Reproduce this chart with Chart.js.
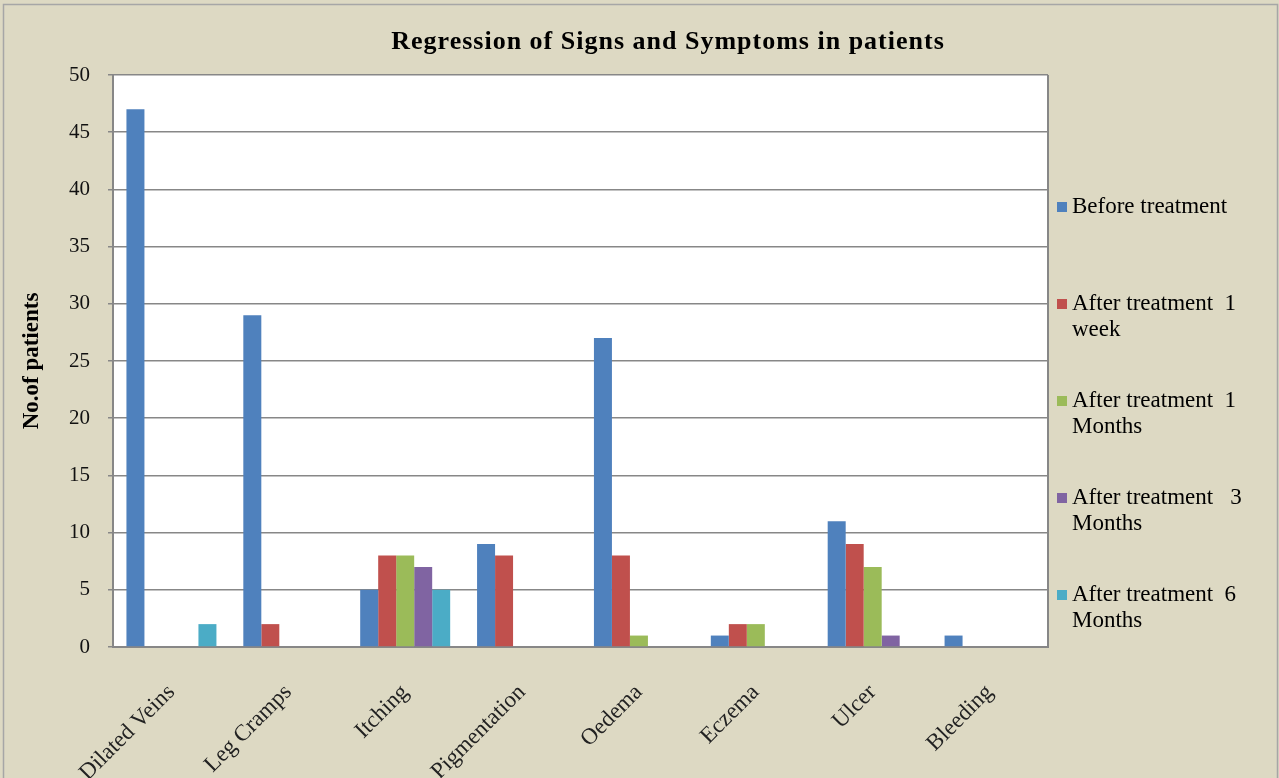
<!DOCTYPE html>
<html>
<head>
<meta charset="utf-8">
<script src="https://cdn.jsdelivr.net/npm/chart.js@4.4.0/dist/chart.umd.min.js"></script>
<style>
  html, body { margin: 0; padding: 0; background: #ddd9c3; }
  canvas { display: block; }
</style>
</head>
<body>
<canvas id="chart" width="1279" height="778"></canvas>
<script>
const categories = ["Dilated Veins", "Leg Cramps", "Itching", "Pigmentation", "Oedema", "Eczema", "Ulcer", "Bleeding"];

const beforeTreatment = [47, 29, 5, 9, 27, 1, 11, 1];
const after1Week = [0, 2, 8, 8, 8, 2, 9, 0];
const after1Month = [0, 0, 8, 0, 1, 2, 7, 0];
const after3Months = [0, 0, 7, 0, 0, 0, 1, 0];
const after6Months = [2, 0, 5, 0, 0, 0, 0, 0];

// legend text, one array per series (lines as shown in the legend)
const seriesNames = [
  ["Before treatment"],
  ["After treatment  1", "week"],
  ["After treatment  1", "Months"],
  ["After treatment   3", "Months"],
  ["After treatment  6", "Months"]
];
const seriesColors = ["#4f81bd", "#c0504d", "#9bbb59", "#8064a2", "#4bacc6"];

const chartTitle = "Regression of Signs and Symptoms in patients";
const yAxisTitle = "No.of patients";

const serif = "'Liberation Serif', 'Times New Roman', serif";
const gridGray = "#878787";

const seriesValues = [beforeTreatment, after1Week, after1Month, after3Months, after6Months];

const datasets = seriesValues.map((values, i) => ({
  label: seriesNames[i].join(" "),
  legendLines: seriesNames[i],
  data: values,
  backgroundColor: seriesColors[i],
  borderWidth: 0
}));

// beige page, white plot area, frame, title and the legend on the right
const decorations = {
  id: "decorations",
  beforeDraw(chart) {
    const { ctx, chartArea } = chart;
    ctx.save();
    ctx.fillStyle = "#ddd9c3";
    ctx.fillRect(0, 0, chart.width, chart.height);
    ctx.strokeStyle = "#a6a6a6";
    ctx.lineWidth = 1.5;
    ctx.strokeRect(3.5, 4.5, chart.width - 5, chart.height + 5);
    ctx.fillStyle = "#ffffff";
    ctx.fillRect(chartArea.left, chartArea.top, chartArea.right - chartArea.left, chartArea.bottom - chartArea.top);
    ctx.restore();
  },
  afterDraw(chart) {
    const { ctx, chartArea } = chart;
    ctx.save();
    ctx.strokeStyle = gridGray;
    ctx.lineWidth = 2;
    ctx.beginPath();
    ctx.moveTo(chartArea.right, chartArea.top);
    ctx.lineTo(chartArea.right, chartArea.bottom);
    ctx.stroke();

    ctx.fillStyle = "#000";
    ctx.font = "bold 26px " + serif;
    ctx.letterSpacing = "1px";
    ctx.textAlign = "center";
    ctx.textBaseline = "middle";
    ctx.fillText(chartTitle, 668, 42);
    ctx.letterSpacing = "0px";

    ctx.font = "23px " + serif;
    ctx.textAlign = "left";
    const x = chartArea.right + 9;
    chart.data.datasets.forEach((ds, i) => {
      const y = chartArea.top + 132 + i * 97;
      ctx.fillStyle = ds.backgroundColor;
      ctx.fillRect(x, y - 5, 10, 10);
      ctx.fillStyle = "#000";
      ds.legendLines.forEach((line, j) => {
        ctx.fillText(line, x + 15, y + j * 26);
      });
    });
    ctx.restore();
  }
};

new Chart(document.getElementById("chart"), {
  type: "bar",
  data: { labels: categories, datasets },
  plugins: [decorations],
  options: {
    responsive: false,
    animation: false,
    devicePixelRatio: 1,
    layout: { padding: { top: 75, left: 15, right: 231, bottom: 0 } },
    datasets: {
      bar: { barPercentage: 1, categoryPercentage: 0.77 }
    },
    plugins: {
      legend: { display: false },
      title: { display: false },
      tooltip: { enabled: false }
    },
    scales: {
      x: {
        grid: { display: false },
        border: { display: true, color: gridGray, width: 2 },
        ticks: {
          color: "#222",
          font: { family: serif, size: 23 },
          minRotation: 45,
          maxRotation: 45,
          padding: 24
        },
        afterFit(scale) { scale.height = 131; }
      },
      y: {
        min: 0,
        max: 50,
        grid: { color: gridGray, lineWidth: 1.5, tickLength: 5 },
        border: { display: true, color: gridGray, width: 2 },
        ticks: {
          stepSize: 5,
          color: "#111",
          font: { family: serif, size: 21 },
          padding: 18
        },
        title: {
          display: true,
          text: yAxisTitle,
          color: "#000",
          font: { family: serif, size: 23, weight: "bold" },
          padding: { top: 3, bottom: 0 }
        },
        afterFit(scale) { scale.width = 98; }
      }
    }
  }
});
</script>
</body>
</html>
